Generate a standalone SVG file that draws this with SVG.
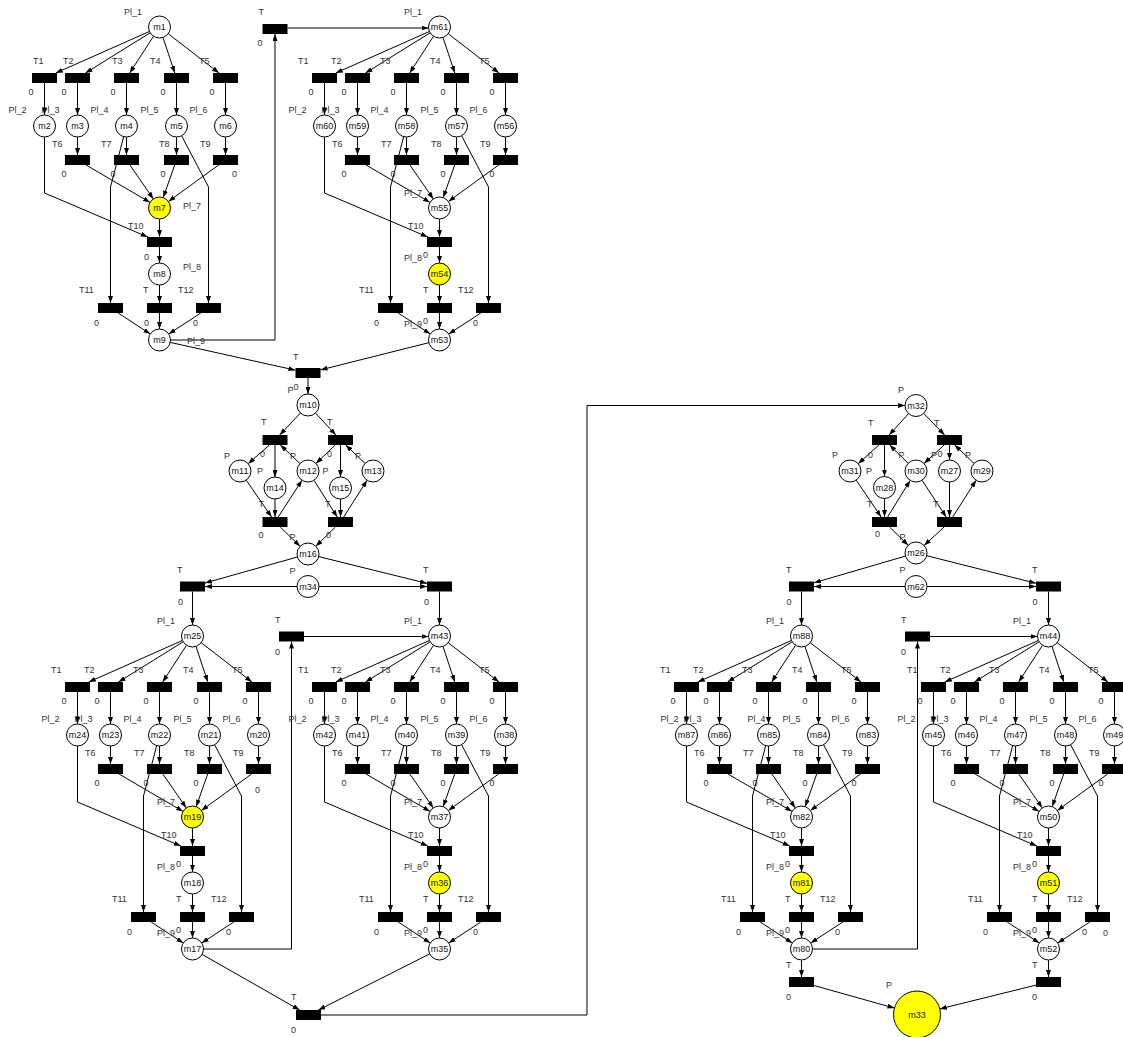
<svg xmlns="http://www.w3.org/2000/svg" width="1123" height="1037" viewBox="0 0 1123 1037">
<style>
.t{fill:#000}
.p{fill:#fff;stroke:#000;stroke-width:1}
.y{fill:#ffff00;stroke:#000;stroke-width:1}
text{font-family:"Liberation Sans",Arial,sans-serif;font-size:9px}
.l{fill:#333}
.n{fill:#111;text-anchor:middle}
.e{fill:none;stroke:#000;stroke-width:1;marker-end:url(#ah)}
</style>
<defs>
<marker id="ah" markerUnits="userSpaceOnUse" markerWidth="7" markerHeight="5" viewBox="0 0 7 5" refX="7" refY="2.5" orient="auto"><path d="M0,0L7,2.5L0,5z" fill="#000"/></marker>
</defs>
<rect width="1123" height="1037" fill="#fff"/>
<g id="connectors">
<g transform="translate(159.5,27)">
<path class="e" d="M-10.06,4.46L-103.7,46"/><path class="e" d="M-9.34,5.81L-74,46"/><path class="e" d="M-5.98,9.23L-29.8,46"/><path class="e" d="M3.48,10.44L15.3,46"/><path class="e" d="M8.7,6.73L59.5,46"/>
<path class="e" d="M-115,56V88"/><path class="e" d="M-82,56V88"/><path class="e" d="M-33,56V88"/><path class="e" d="M17,56V88"/><path class="e" d="M66,56V88"/>
<path class="e" d="M-82,110V128"/><path class="e" d="M-33,110V128"/><path class="e" d="M17,110V128"/><path class="e" d="M66,110V128"/>
<path class="e" d="M-115,110V166L-11.7,210"/><path class="e" d="M-35.8,109.6L-49,160V276"/><path class="e" d="M22.1,108.7L49,160V276"/>
<path class="e" d="M-73.5,138L-9.5,175.4"/><path class="e" d="M-29.6,138L-6.2,171.9"/><path class="e" d="M15.2,138L3.7,170.6"/><path class="e" d="M59.1,138L8.9,174.5"/>
<path class="e" d="M0,192V210"/><path class="e" d="M0,220V236"/><path class="e" d="M0,258V276"/><path class="e" d="M0,286V302"/><path class="e" d="M-41.3,286L-9.2,307"/><path class="e" d="M41.3,286L9.2,307"/>
</g>
<g transform="translate(439.5,27)">
<path class="e" d="M-10.06,4.46L-103.7,46"/><path class="e" d="M-9.34,5.81L-74,46"/><path class="e" d="M-5.98,9.23L-29.8,46"/><path class="e" d="M3.48,10.44L15.3,46"/><path class="e" d="M8.7,6.73L59.5,46"/>
<path class="e" d="M-115,56V88"/><path class="e" d="M-82,56V88"/><path class="e" d="M-33,56V88"/><path class="e" d="M17,56V88"/><path class="e" d="M66,56V88"/>
<path class="e" d="M-82,110V128"/><path class="e" d="M-33,110V128"/><path class="e" d="M17,110V128"/><path class="e" d="M66,110V128"/>
<path class="e" d="M-115,110V166L-11.7,210"/><path class="e" d="M-35.8,109.6L-49,160V276"/><path class="e" d="M22.1,108.7L49,160V276"/>
<path class="e" d="M-73.5,138L-9.5,175.4"/><path class="e" d="M-29.6,138L-6.2,171.9"/><path class="e" d="M15.2,138L3.7,170.6"/><path class="e" d="M59.1,138L8.9,174.5"/>
<path class="e" d="M0,192V210"/><path class="e" d="M0,220V236"/><path class="e" d="M0,258V276"/><path class="e" d="M0,286V302"/><path class="e" d="M-41.3,286L-9.2,307"/><path class="e" d="M41.3,286L9.2,307"/>
</g>
<g transform="translate(192.5,636)">
<path class="e" d="M-10.06,4.46L-103.7,46"/><path class="e" d="M-9.34,5.81L-74,46"/><path class="e" d="M-5.98,9.23L-29.8,46"/><path class="e" d="M3.48,10.44L15.3,46"/><path class="e" d="M8.7,6.73L59.5,46"/>
<path class="e" d="M-115,56V88"/><path class="e" d="M-82,56V88"/><path class="e" d="M-33,56V88"/><path class="e" d="M17,56V88"/><path class="e" d="M66,56V88"/>
<path class="e" d="M-82,110V128"/><path class="e" d="M-33,110V128"/><path class="e" d="M17,110V128"/><path class="e" d="M66,110V128"/>
<path class="e" d="M-115,110V166L-11.7,210"/><path class="e" d="M-35.8,109.6L-49,160V276"/><path class="e" d="M22.1,108.7L49,160V276"/>
<path class="e" d="M-73.5,138L-9.5,175.4"/><path class="e" d="M-29.6,138L-6.2,171.9"/><path class="e" d="M15.2,138L3.7,170.6"/><path class="e" d="M59.1,138L8.9,174.5"/>
<path class="e" d="M0,192V210"/><path class="e" d="M0,220V236"/><path class="e" d="M0,258V276"/><path class="e" d="M0,286V302"/><path class="e" d="M-41.3,286L-9.2,307"/><path class="e" d="M41.3,286L9.2,307"/>
</g>
<g transform="translate(439.5,636)">
<path class="e" d="M-10.06,4.46L-103.7,46"/><path class="e" d="M-9.34,5.81L-74,46"/><path class="e" d="M-5.98,9.23L-29.8,46"/><path class="e" d="M3.48,10.44L15.3,46"/><path class="e" d="M8.7,6.73L59.5,46"/>
<path class="e" d="M-115,56V88"/><path class="e" d="M-82,56V88"/><path class="e" d="M-33,56V88"/><path class="e" d="M17,56V88"/><path class="e" d="M66,56V88"/>
<path class="e" d="M-82,110V128"/><path class="e" d="M-33,110V128"/><path class="e" d="M17,110V128"/><path class="e" d="M66,110V128"/>
<path class="e" d="M-115,110V166L-11.7,210"/><path class="e" d="M-35.8,109.6L-49,160V276"/><path class="e" d="M22.1,108.7L49,160V276"/>
<path class="e" d="M-73.5,138L-9.5,175.4"/><path class="e" d="M-29.6,138L-6.2,171.9"/><path class="e" d="M15.2,138L3.7,170.6"/><path class="e" d="M59.1,138L8.9,174.5"/>
<path class="e" d="M0,192V210"/><path class="e" d="M0,220V236"/><path class="e" d="M0,258V276"/><path class="e" d="M0,286V302"/><path class="e" d="M-41.3,286L-9.2,307"/><path class="e" d="M41.3,286L9.2,307"/>
</g>
<g transform="translate(801.5,636)">
<path class="e" d="M-10.06,4.46L-103.7,46"/><path class="e" d="M-9.34,5.81L-74,46"/><path class="e" d="M-5.98,9.23L-29.8,46"/><path class="e" d="M3.48,10.44L15.3,46"/><path class="e" d="M8.7,6.73L59.5,46"/>
<path class="e" d="M-115,56V88"/><path class="e" d="M-82,56V88"/><path class="e" d="M-33,56V88"/><path class="e" d="M17,56V88"/><path class="e" d="M66,56V88"/>
<path class="e" d="M-82,110V128"/><path class="e" d="M-33,110V128"/><path class="e" d="M17,110V128"/><path class="e" d="M66,110V128"/>
<path class="e" d="M-115,110V166L-11.7,210"/><path class="e" d="M-35.8,109.6L-49,160V276"/><path class="e" d="M22.1,108.7L49,160V276"/>
<path class="e" d="M-73.5,138L-9.5,175.4"/><path class="e" d="M-29.6,138L-6.2,171.9"/><path class="e" d="M15.2,138L3.7,170.6"/><path class="e" d="M59.1,138L8.9,174.5"/>
<path class="e" d="M0,192V210"/><path class="e" d="M0,220V236"/><path class="e" d="M0,258V276"/><path class="e" d="M0,286V302"/><path class="e" d="M-41.3,286L-9.2,307"/><path class="e" d="M41.3,286L9.2,307"/>
</g>
<g transform="translate(1048.5,636)">
<path class="e" d="M-10.06,4.46L-103.7,46"/><path class="e" d="M-9.34,5.81L-74,46"/><path class="e" d="M-5.98,9.23L-29.8,46"/><path class="e" d="M3.48,10.44L15.3,46"/><path class="e" d="M8.7,6.73L59.5,46"/>
<path class="e" d="M-115,56V88"/><path class="e" d="M-82,56V88"/><path class="e" d="M-33,56V88"/><path class="e" d="M17,56V88"/><path class="e" d="M66,56V88"/>
<path class="e" d="M-82,110V128"/><path class="e" d="M-33,110V128"/><path class="e" d="M17,110V128"/><path class="e" d="M66,110V128"/>
<path class="e" d="M-115,110V166L-11.7,210"/><path class="e" d="M-35.8,109.6L-49,160V276"/><path class="e" d="M22.1,108.7L49,160V276"/>
<path class="e" d="M-73.5,138L-9.5,175.4"/><path class="e" d="M-29.6,138L-6.2,171.9"/><path class="e" d="M15.2,138L3.7,170.6"/><path class="e" d="M59.1,138L8.9,174.5"/>
<path class="e" d="M0,192V210"/><path class="e" d="M0,220V236"/><path class="e" d="M0,258V276"/><path class="e" d="M0,286V302"/><path class="e" d="M-41.3,286L-9.2,307"/><path class="e" d="M41.3,286L9.2,307"/>
</g>
<path class="e" d="M170.5,340H275V34"/>
<path class="e" d="M287.5,28H428.5"/>
<path class="e" d="M170.2,342.4L295.5,370.2"/>
<path class="e" d="M428.8,342.7L320.5,369.9"/>
<path class="e" d="M308,378V394"/>
<path class="e" d="M300.45,413L279.7,435"/>
<path class="e" d="M315.5,413.1L335.9,435"/>
<path class="e" d="M269.4,445L248.2,463.7"/>
<path class="e" d="M275,445V477"/>
<path class="e" d="M300,463.5L280.3,445"/>
<path class="e" d="M335.3,445L316,463.4"/>
<path class="e" d="M340.5,445V477"/>
<path class="e" d="M365,463.4L345.7,445"/>
<path class="e" d="M246.2,480.1L271.6,517"/>
<path class="e" d="M275,499V517"/>
<path class="e" d="M278.2,517L302,480.2"/>
<path class="e" d="M313.9,480.3L337.3,517"/>
<path class="e" d="M340.5,499V517"/>
<path class="e" d="M343.7,517L367.1,480.3"/>
<path class="e" d="M280.2,527L300.1,546.3"/>
<path class="e" d="M335.4,527L315.8,546.3"/>
<path class="e" d="M297.4,557L205,583"/>
<path class="e" d="M318.7,556.6L427,583.4"/>
<path class="e" d="M297,586.5H205"/>
<path class="e" d="M319,586.5H427"/>
<path class="e" d="M192.5,591.5V625"/>
<path class="e" d="M439.5,591.5V625"/>
<path class="e" d="M203.5,949H291.5V641.5"/>
<path class="e" d="M304,636.5H428.5"/>
<path class="e" d="M202.1,954.4L299.7,1010"/>
<path class="e" d="M429.7,953.9L318.4,1010"/>
<path class="e" d="M321,1015H587V405.5H905"/>
<path class="e" d="M908.6,413.6L889.1,435"/>
<path class="e" d="M923.7,413.4L944.6,435"/>
<path class="e" d="M878.9,445L858.2,463.7"/>
<path class="e" d="M884.5,445V476.5"/>
<path class="e" d="M908.2,463.3L889.6,445"/>
<path class="e" d="M944.1,445L924.1,463.5"/>
<path class="e" d="M949.5,445V460"/>
<path class="e" d="M974,463.4L954.7,445"/>
<path class="e" d="M856.2,480.1L881.1,517"/>
<path class="e" d="M884.5,498.5V517"/>
<path class="e" d="M887.6,517L910.2,480.4"/>
<path class="e" d="M922,480.2L946.2,517"/>
<path class="e" d="M949.5,482V517"/>
<path class="e" d="M952.7,517L976.1,480.3"/>
<path class="e" d="M889.6,527L908.2,545.3"/>
<path class="e" d="M944.1,527L924.1,545.5"/>
<path class="e" d="M905.4,556.1L814,582.8"/>
<path class="e" d="M926.7,555.7L1036,583.3"/>
<path class="e" d="M905,586.5H814"/>
<path class="e" d="M927,586.5H1036"/>
<path class="e" d="M801.5,591.5V625"/>
<path class="e" d="M1048.5,591.5V625"/>
<path class="e" d="M812.5,949H917.5V641.5"/>
<path class="e" d="M930,636.5H1037.5"/>
<path class="e" d="M801.5,960V977"/>
<path class="e" d="M1048.5,960V977"/>
<path class="e" d="M814,985.5L894.4,1008.1"/>
<path class="e" d="M1036,985.1L939.8,1008.9"/>
</g>
<g id="nodes">
<g id="block1" transform="translate(159.5,27)">
<g id="m1"><circle class="p" r="11"/><text class="n" y="3">m1</text><text class="l" x="-35.5" y="-12">Pl_1</text></g>
<g id="b1-T1"><rect class="t" x="-127.5" y="46" width="25" height="10"/><text class="l" x="-126.5" y="37">T1</text><text class="l" x="-131" y="67.5">0</text></g>
<g id="b1-T2"><rect class="t" x="-94.5" y="46" width="25" height="10"/><text class="l" x="-96.5" y="37">T2</text><text class="l" x="-98" y="67.5">0</text></g>
<g id="b1-T3"><rect class="t" x="-45.5" y="46" width="25" height="10"/><text class="l" x="-47.5" y="37">T3</text><text class="l" x="-49" y="67.5">0</text></g>
<g id="b1-T4"><rect class="t" x="4.5" y="46" width="25" height="10"/><text class="l" x="-9.5" y="37">T4</text><text class="l" x="1" y="67.5">0</text></g>
<g id="b1-T5"><rect class="t" x="53.5" y="46" width="25" height="10"/><text class="l" x="39.5" y="37">T5</text><text class="l" x="50" y="67.5">0</text></g>
<g id="m2"><circle class="p" cx="-115" cy="99" r="11"/><text class="n" x="-115" y="102">m2</text><text class="l" x="-151" y="86">Pl_2</text></g>
<g id="m3"><circle class="p" cx="-82" cy="99" r="11"/><text class="n" x="-82" y="102">m3</text><text class="l" x="-118" y="86">Pl_3</text></g>
<g id="m4"><circle class="p" cx="-33" cy="99" r="11"/><text class="n" x="-33" y="102">m4</text><text class="l" x="-69" y="86">Pl_4</text></g>
<g id="m5"><circle class="p" cx="17" cy="99" r="11"/><text class="n" x="17" y="102">m5</text><text class="l" x="-19" y="86">Pl_5</text></g>
<g id="m6"><circle class="p" cx="66" cy="99" r="11"/><text class="n" x="66" y="102">m6</text><text class="l" x="30" y="86">Pl_6</text></g>
<g id="b1-T6"><rect class="t" x="-94.5" y="128" width="25" height="10"/><text class="l" x="-107.5" y="120">T6</text><text class="l" x="-98" y="150">0</text></g>
<g id="b1-T7"><rect class="t" x="-45.5" y="128" width="25" height="10"/><text class="l" x="-58.5" y="120">T7</text><text class="l" x="-49" y="150">0</text></g>
<g id="b1-T8"><rect class="t" x="4.5" y="128" width="25" height="10"/><text class="l" x="-0.5" y="120">T8</text><text class="l" x="1" y="150">0</text></g>
<g id="b1-T9"><rect class="t" x="53.5" y="128" width="25" height="10"/><text class="l" x="40.5" y="120">T9</text><text class="l" x="72.5" y="150">0</text></g>
<g id="m7"><circle class="y" cy="181" r="11"/><text class="n" y="184">m7</text><text class="l" x="23.5" y="182">Pl_7</text></g>
<g id="b1-T10"><rect class="t" x="-12.5" y="210" width="25" height="10"/><text class="l" x="-31.5" y="201.5">T10</text><text class="l" x="-15.5" y="233">0</text></g>
<g id="m8"><circle class="p" cy="247" r="11"/><text class="n" y="250">m8</text><text class="l" x="23.5" y="243">Pl_8</text></g>
<g id="b1-T11"><rect class="t" x="-61.5" y="276" width="25" height="10"/><text class="l" x="-80.5" y="266">T11</text><text class="l" x="-65.5" y="299">0</text></g>
<g id="b1-T"><rect class="t" x="-12.5" y="276" width="25" height="10"/><text class="l" x="-16.5" y="266">T</text><text class="l" x="-15.5" y="299">0</text></g>
<g id="b1-T12"><rect class="t" x="36.5" y="276" width="25" height="10"/><text class="l" x="18.5" y="266">T12</text><text class="l" x="33.5" y="299">0</text></g>
<g id="m9"><circle class="p" cy="313" r="11"/><text class="n" y="316">m9</text><text class="l" x="27.5" y="316.5">Pl_9</text></g>
</g>
<g id="block2" transform="translate(439.5,27)">
<g id="m61"><circle class="p" r="11"/><text class="n" y="3">m61</text><text class="l" x="-35.5" y="-12">Pl_1</text></g>
<g id="b2-T1"><rect class="t" x="-127.5" y="46" width="25" height="10"/><text class="l" x="-141.5" y="37">T1</text><text class="l" x="-131" y="67.5">0</text></g>
<g id="b2-T2"><rect class="t" x="-94.5" y="46" width="25" height="10"/><text class="l" x="-108.5" y="37">T2</text><text class="l" x="-98" y="67.5">0</text></g>
<g id="b2-T3"><rect class="t" x="-45.5" y="46" width="25" height="10"/><text class="l" x="-59.5" y="37">T3</text><text class="l" x="-49" y="67.5">0</text></g>
<g id="b2-T4"><rect class="t" x="4.5" y="46" width="25" height="10"/><text class="l" x="-9.5" y="37">T4</text><text class="l" x="1" y="67.5">0</text></g>
<g id="b2-T5"><rect class="t" x="53.5" y="46" width="25" height="10"/><text class="l" x="39.5" y="37">T5</text><text class="l" x="50" y="67.5">0</text></g>
<g id="m60"><circle class="p" cx="-115" cy="99" r="11"/><text class="n" x="-115" y="102">m60</text><text class="l" x="-151" y="86">Pl_2</text></g>
<g id="m59"><circle class="p" cx="-82" cy="99" r="11"/><text class="n" x="-82" y="102">m59</text><text class="l" x="-118" y="86">Pl_3</text></g>
<g id="m58"><circle class="p" cx="-33" cy="99" r="11"/><text class="n" x="-33" y="102">m58</text><text class="l" x="-69" y="86">Pl_4</text></g>
<g id="m57"><circle class="p" cx="17" cy="99" r="11"/><text class="n" x="17" y="102">m57</text><text class="l" x="-19" y="86">Pl_5</text></g>
<g id="m56"><circle class="p" cx="66" cy="99" r="11"/><text class="n" x="66" y="102">m56</text><text class="l" x="30" y="86">Pl_6</text></g>
<g id="b2-T6"><rect class="t" x="-94.5" y="128" width="25" height="10"/><text class="l" x="-107.5" y="120">T6</text><text class="l" x="-98" y="150">0</text></g>
<g id="b2-T7"><rect class="t" x="-45.5" y="128" width="25" height="10"/><text class="l" x="-58.5" y="120">T7</text><text class="l" x="-49" y="150">0</text></g>
<g id="b2-T8"><rect class="t" x="4.5" y="128" width="25" height="10"/><text class="l" x="-8.5" y="120">T8</text><text class="l" x="1" y="150">0</text></g>
<g id="b2-T9"><rect class="t" x="53.5" y="128" width="25" height="10"/><text class="l" x="40.5" y="120">T9</text><text class="l" x="50" y="150">0</text></g>
<g id="m55"><circle class="p" cy="181" r="11"/><text class="n" y="184">m55</text><text class="l" x="-35.5" y="169">Pl_7</text></g>
<g id="b2-T10"><rect class="t" x="-12.5" y="210" width="25" height="10"/><text class="l" x="-31.5" y="201.5">T10</text><text class="l" x="-16.5" y="231">0</text></g>
<g id="m54"><circle class="y" cy="247" r="11"/><text class="n" y="250">m54</text><text class="l" x="-35.5" y="234">Pl_8</text></g>
<g id="b2-T11"><rect class="t" x="-61.5" y="276" width="25" height="10"/><text class="l" x="-80.5" y="266">T11</text><text class="l" x="-65.5" y="299">0</text></g>
<g id="b2-T"><rect class="t" x="-12.5" y="276" width="25" height="10"/><text class="l" x="-16.5" y="266">T</text><text class="l" x="-16.5" y="297">0</text></g>
<g id="b2-T12"><rect class="t" x="36.5" y="276" width="25" height="10"/><text class="l" x="18.5" y="266">T12</text><text class="l" x="33.5" y="299">0</text></g>
<g id="m53"><circle class="p" cy="313" r="11"/><text class="n" y="316">m53</text><text class="l" x="-35.5" y="300">Pl_9</text></g>
</g>
<g id="block3" transform="translate(192.5,636)">
<g id="m25"><circle class="p" r="11"/><text class="n" y="3">m25</text><text class="l" x="-35.5" y="-12">Pl_1</text></g>
<g id="b3-T1"><rect class="t" x="-127.5" y="46" width="25" height="10"/><text class="l" x="-141.5" y="37">T1</text><text class="l" x="-131" y="67.5">0</text></g>
<g id="b3-T2"><rect class="t" x="-94.5" y="46" width="25" height="10"/><text class="l" x="-108.5" y="37">T2</text><text class="l" x="-98" y="67.5">0</text></g>
<g id="b3-T3"><rect class="t" x="-45.5" y="46" width="25" height="10"/><text class="l" x="-59.5" y="37">T3</text><text class="l" x="-49" y="67.5">0</text></g>
<g id="b3-T4"><rect class="t" x="4.5" y="46" width="25" height="10"/><text class="l" x="-9.5" y="37">T4</text><text class="l" x="1" y="67.5">0</text></g>
<g id="b3-T5"><rect class="t" x="53.5" y="46" width="25" height="10"/><text class="l" x="39.5" y="37">T5</text><text class="l" x="50" y="67.5">0</text></g>
<g id="m24"><circle class="p" cx="-115" cy="99" r="11"/><text class="n" x="-115" y="102">m24</text><text class="l" x="-151" y="86">Pl_2</text></g>
<g id="m23"><circle class="p" cx="-82" cy="99" r="11"/><text class="n" x="-82" y="102">m23</text><text class="l" x="-118" y="86">Pl_3</text></g>
<g id="m22"><circle class="p" cx="-33" cy="99" r="11"/><text class="n" x="-33" y="102">m22</text><text class="l" x="-69" y="86">Pl_4</text></g>
<g id="m21"><circle class="p" cx="17" cy="99" r="11"/><text class="n" x="17" y="102">m21</text><text class="l" x="-19" y="86">Pl_5</text></g>
<g id="m20"><circle class="p" cx="66" cy="99" r="11"/><text class="n" x="66" y="102">m20</text><text class="l" x="30" y="86">Pl_6</text></g>
<g id="b3-T6"><rect class="t" x="-94.5" y="128" width="25" height="10"/><text class="l" x="-107.5" y="120">T6</text><text class="l" x="-98" y="150">0</text></g>
<g id="b3-T7"><rect class="t" x="-45.5" y="128" width="25" height="10"/><text class="l" x="-58.5" y="120">T7</text><text class="l" x="-49" y="150">0</text></g>
<g id="b3-T8"><rect class="t" x="4.5" y="128" width="25" height="10"/><text class="l" x="-8.5" y="120">T8</text><text class="l" x="1" y="150">0</text></g>
<g id="b3-T9"><rect class="t" x="53.5" y="128" width="25" height="10"/><text class="l" x="40.5" y="120">T9</text><text class="l" x="62.5" y="157">0</text></g>
<g id="m19"><circle class="y" cy="181" r="11"/><text class="n" y="184">m19</text><text class="l" x="-35.5" y="169">Pl_7</text></g>
<g id="b3-T10"><rect class="t" x="-12.5" y="210" width="25" height="10"/><text class="l" x="-31.5" y="201.5">T10</text><text class="l" x="-16.5" y="231">0</text></g>
<g id="m18"><circle class="p" cy="247" r="11"/><text class="n" y="250">m18</text><text class="l" x="-35.5" y="234">Pl_8</text></g>
<g id="b3-T11"><rect class="t" x="-61.5" y="276" width="25" height="10"/><text class="l" x="-80.5" y="266">T11</text><text class="l" x="-65.5" y="299">0</text></g>
<g id="b3-T"><rect class="t" x="-12.5" y="276" width="25" height="10"/><text class="l" x="-16.5" y="266">T</text><text class="l" x="-16.5" y="297">0</text></g>
<g id="b3-T12"><rect class="t" x="36.5" y="276" width="25" height="10"/><text class="l" x="18.5" y="266">T12</text><text class="l" x="33.5" y="299">0</text></g>
<g id="m17"><circle class="p" cy="313" r="11"/><text class="n" y="316">m17</text><text class="l" x="-35.5" y="300">Pl_9</text></g>
</g>
<g id="block4" transform="translate(439.5,636)">
<g id="m43"><circle class="p" r="11"/><text class="n" y="3">m43</text><text class="l" x="-35.5" y="-12">Pl_1</text></g>
<g id="b4-T1"><rect class="t" x="-127.5" y="46" width="25" height="10"/><text class="l" x="-141.5" y="37">T1</text><text class="l" x="-131" y="67.5">0</text></g>
<g id="b4-T2"><rect class="t" x="-94.5" y="46" width="25" height="10"/><text class="l" x="-108.5" y="37">T2</text><text class="l" x="-98" y="67.5">0</text></g>
<g id="b4-T3"><rect class="t" x="-45.5" y="46" width="25" height="10"/><text class="l" x="-59.5" y="37">T3</text><text class="l" x="-49" y="67.5">0</text></g>
<g id="b4-T4"><rect class="t" x="4.5" y="46" width="25" height="10"/><text class="l" x="-9.5" y="37">T4</text><text class="l" x="1" y="67.5">0</text></g>
<g id="b4-T5"><rect class="t" x="53.5" y="46" width="25" height="10"/><text class="l" x="39.5" y="37">T5</text><text class="l" x="50" y="67.5">0</text></g>
<g id="m42"><circle class="p" cx="-115" cy="99" r="11"/><text class="n" x="-115" y="102">m42</text><text class="l" x="-151" y="86">Pl_2</text></g>
<g id="m41"><circle class="p" cx="-82" cy="99" r="11"/><text class="n" x="-82" y="102">m41</text><text class="l" x="-118" y="86">Pl_3</text></g>
<g id="m40"><circle class="p" cx="-33" cy="99" r="11"/><text class="n" x="-33" y="102">m40</text><text class="l" x="-69" y="86">Pl_4</text></g>
<g id="m39"><circle class="p" cx="17" cy="99" r="11"/><text class="n" x="17" y="102">m39</text><text class="l" x="-19" y="86">Pl_5</text></g>
<g id="m38"><circle class="p" cx="66" cy="99" r="11"/><text class="n" x="66" y="102">m38</text><text class="l" x="30" y="86">Pl_6</text></g>
<g id="b4-T6"><rect class="t" x="-94.5" y="128" width="25" height="10"/><text class="l" x="-107.5" y="120">T6</text><text class="l" x="-98" y="150">0</text></g>
<g id="b4-T7"><rect class="t" x="-45.5" y="128" width="25" height="10"/><text class="l" x="-58.5" y="120">T7</text><text class="l" x="-49" y="150">0</text></g>
<g id="b4-T8"><rect class="t" x="4.5" y="128" width="25" height="10"/><text class="l" x="-8.5" y="120">T8</text><text class="l" x="1" y="150">0</text></g>
<g id="b4-T9"><rect class="t" x="53.5" y="128" width="25" height="10"/><text class="l" x="40.5" y="120">T9</text><text class="l" x="50" y="150">0</text></g>
<g id="m37"><circle class="p" cy="181" r="11"/><text class="n" y="184">m37</text><text class="l" x="-35.5" y="169">Pl_7</text></g>
<g id="b4-T10"><rect class="t" x="-12.5" y="210" width="25" height="10"/><text class="l" x="-31.5" y="201.5">T10</text><text class="l" x="-16.5" y="231">0</text></g>
<g id="m36"><circle class="y" cy="247" r="11"/><text class="n" y="250">m36</text><text class="l" x="-35.5" y="234">Pl_8</text></g>
<g id="b4-T11"><rect class="t" x="-61.5" y="276" width="25" height="10"/><text class="l" x="-80.5" y="266">T11</text><text class="l" x="-65.5" y="299">0</text></g>
<g id="b4-T"><rect class="t" x="-12.5" y="276" width="25" height="10"/><text class="l" x="-16.5" y="266">T</text><text class="l" x="-16.5" y="297">0</text></g>
<g id="b4-T12"><rect class="t" x="36.5" y="276" width="25" height="10"/><text class="l" x="18.5" y="266">T12</text><text class="l" x="33.5" y="299">0</text></g>
<g id="m35"><circle class="p" cy="313" r="11"/><text class="n" y="316">m35</text><text class="l" x="-35.5" y="300">Pl_9</text></g>
</g>
<g id="block5" transform="translate(801.5,636)">
<g id="m88"><circle class="p" r="11"/><text class="n" y="3">m88</text><text class="l" x="-35.5" y="-12">Pl_1</text></g>
<g id="b5-T1"><rect class="t" x="-127.5" y="46" width="25" height="10"/><text class="l" x="-141.5" y="37">T1</text><text class="l" x="-131" y="67.5">0</text></g>
<g id="b5-T2"><rect class="t" x="-94.5" y="46" width="25" height="10"/><text class="l" x="-108.5" y="37">T2</text><text class="l" x="-98" y="67.5">0</text></g>
<g id="b5-T3"><rect class="t" x="-45.5" y="46" width="25" height="10"/><text class="l" x="-59.5" y="37">T3</text><text class="l" x="-49" y="67.5">0</text></g>
<g id="b5-T4"><rect class="t" x="4.5" y="46" width="25" height="10"/><text class="l" x="-9.5" y="37">T4</text><text class="l" x="1" y="67.5">0</text></g>
<g id="b5-T5"><rect class="t" x="53.5" y="46" width="25" height="10"/><text class="l" x="39.5" y="37">T5</text><text class="l" x="50" y="67.5">0</text></g>
<g id="m87"><circle class="p" cx="-115" cy="99" r="11"/><text class="n" x="-115" y="102">m87</text><text class="l" x="-141" y="86">Pl_2</text></g>
<g id="m86"><circle class="p" cx="-82" cy="99" r="11"/><text class="n" x="-82" y="102">m86</text><text class="l" x="-118" y="86">Pl_3</text></g>
<g id="m85"><circle class="p" cx="-33" cy="99" r="11"/><text class="n" x="-33" y="102">m85</text><text class="l" x="-54" y="86">Pl_4</text></g>
<g id="m84"><circle class="p" cx="17" cy="99" r="11"/><text class="n" x="17" y="102">m84</text><text class="l" x="-19" y="86">Pl_5</text></g>
<g id="m83"><circle class="p" cx="66" cy="99" r="11"/><text class="n" x="66" y="102">m83</text><text class="l" x="30" y="86">Pl_6</text></g>
<g id="b5-T6"><rect class="t" x="-94.5" y="128" width="25" height="10"/><text class="l" x="-107.5" y="120">T6</text><text class="l" x="-98" y="150">0</text></g>
<g id="b5-T7"><rect class="t" x="-45.5" y="128" width="25" height="10"/><text class="l" x="-58.5" y="120">T7</text><text class="l" x="-49" y="150">0</text></g>
<g id="b5-T8"><rect class="t" x="4.5" y="128" width="25" height="10"/><text class="l" x="-8.5" y="120">T8</text><text class="l" x="1" y="150">0</text></g>
<g id="b5-T9"><rect class="t" x="53.5" y="128" width="25" height="10"/><text class="l" x="40.5" y="120">T9</text><text class="l" x="50" y="150">0</text></g>
<g id="m82"><circle class="p" cy="181" r="11"/><text class="n" y="184">m82</text><text class="l" x="-35.5" y="169">Pl_7</text></g>
<g id="b5-T10"><rect class="t" x="-12.5" y="210" width="25" height="10"/><text class="l" x="-31.5" y="201.5">T10</text><text class="l" x="-16.5" y="231">0</text></g>
<g id="m81"><circle class="y" cy="247" r="11"/><text class="n" y="250">m81</text><text class="l" x="-35.5" y="234">Pl_8</text></g>
<g id="b5-T11"><rect class="t" x="-61.5" y="276" width="25" height="10"/><text class="l" x="-80.5" y="266">T11</text><text class="l" x="-65.5" y="299">0</text></g>
<g id="b5-T"><rect class="t" x="-12.5" y="276" width="25" height="10"/><text class="l" x="-16.5" y="266">T</text><text class="l" x="-16.5" y="297">0</text></g>
<g id="b5-T12"><rect class="t" x="36.5" y="276" width="25" height="10"/><text class="l" x="18.5" y="266">T12</text><text class="l" x="33.5" y="299">0</text></g>
<g id="m80"><circle class="p" cy="313" r="11"/><text class="n" y="316">m80</text><text class="l" x="-35.5" y="300">Pl_9</text></g>
</g>
<g id="block6" transform="translate(1048.5,636)">
<g id="m44"><circle class="p" r="11"/><text class="n" y="3">m44</text><text class="l" x="-35.5" y="-12">Pl_1</text></g>
<g id="b6-T1"><rect class="t" x="-127.5" y="46" width="25" height="10"/><text class="l" x="-141.5" y="37">T1</text><text class="l" x="-131" y="67.5">0</text></g>
<g id="b6-T2"><rect class="t" x="-94.5" y="46" width="25" height="10"/><text class="l" x="-108.5" y="37">T2</text><text class="l" x="-98" y="67.5">0</text></g>
<g id="b6-T3"><rect class="t" x="-45.5" y="46" width="25" height="10"/><text class="l" x="-59.5" y="37">T3</text><text class="l" x="-49" y="67.5">0</text></g>
<g id="b6-T4"><rect class="t" x="4.5" y="46" width="25" height="10"/><text class="l" x="-9.5" y="37">T4</text><text class="l" x="1" y="67.5">0</text></g>
<g id="b6-T5"><rect class="t" x="53.5" y="46" width="25" height="10"/><text class="l" x="39.5" y="37">T5</text><text class="l" x="50" y="67.5">0</text></g>
<g id="m45"><circle class="p" cx="-115" cy="99" r="11"/><text class="n" x="-115" y="102">m45</text><text class="l" x="-151" y="86">Pl_2</text></g>
<g id="m46"><circle class="p" cx="-82" cy="99" r="11"/><text class="n" x="-82" y="102">m46</text><text class="l" x="-118" y="86">Pl_3</text></g>
<g id="m47"><circle class="p" cx="-33" cy="99" r="11"/><text class="n" x="-33" y="102">m47</text><text class="l" x="-69" y="86">Pl_4</text></g>
<g id="m48"><circle class="p" cx="17" cy="99" r="11"/><text class="n" x="17" y="102">m48</text><text class="l" x="-19" y="86">Pl_5</text></g>
<g id="m49"><circle class="p" cx="66" cy="99" r="11"/><text class="n" x="66" y="102">m49</text><text class="l" x="30" y="86">Pl_6</text></g>
<g id="b6-T6"><rect class="t" x="-94.5" y="128" width="25" height="10"/><text class="l" x="-107.5" y="120">T6</text><text class="l" x="-98" y="150">0</text></g>
<g id="b6-T7"><rect class="t" x="-45.5" y="128" width="25" height="10"/><text class="l" x="-58.5" y="120">T7</text><text class="l" x="-49" y="150">0</text></g>
<g id="b6-T8"><rect class="t" x="4.5" y="128" width="25" height="10"/><text class="l" x="-8.5" y="120">T8</text><text class="l" x="1" y="150">0</text></g>
<g id="b6-T9"><rect class="t" x="53.5" y="128" width="25" height="10"/><text class="l" x="40.5" y="120">T9</text><text class="l" x="50" y="150">0</text></g>
<g id="m50"><circle class="p" cy="181" r="11"/><text class="n" y="184">m50</text><text class="l" x="-35.5" y="169">Pl_7</text></g>
<g id="b6-T10"><rect class="t" x="-12.5" y="210" width="25" height="10"/><text class="l" x="-31.5" y="201.5">T10</text><text class="l" x="-16.5" y="231">0</text></g>
<g id="m51"><circle class="y" cy="247" r="11"/><text class="n" y="250">m51</text><text class="l" x="-35.5" y="234">Pl_8</text></g>
<g id="b6-T11"><rect class="t" x="-61.5" y="276" width="25" height="10"/><text class="l" x="-80.5" y="266">T11</text><text class="l" x="-65.5" y="299">0</text></g>
<g id="b6-T"><rect class="t" x="-12.5" y="276" width="25" height="10"/><text class="l" x="-16.5" y="266">T</text><text class="l" x="-16.5" y="297">0</text></g>
<g id="b6-T12"><rect class="t" x="36.5" y="276" width="25" height="10"/><text class="l" x="18.5" y="266">T12</text><text class="l" x="33.5" y="299">0</text><text class="l" x="54.5" y="300">0</text></g>
<g id="m52"><circle class="p" cy="313" r="11"/><text class="n" y="316">m52</text><text class="l" x="-35.5" y="300">Pl_9</text></g>
</g>
<g id="T-top"><rect class="t" x="262.5" y="24" width="25" height="10"/><text class="l" x="258.5" y="15">T</text><text class="l" x="257.5" y="46">0</text></g>
<g id="T-merge"><rect class="t" x="295.5" y="368" width="25" height="10"/><text class="l" x="293" y="359.5">T</text><text class="l" x="293.5" y="390">0</text></g>
<g id="m10"><circle class="p" cx="308" cy="405" r="11"/><text class="n" x="308" y="408">m10</text><text class="l" x="287.5" y="393">P</text></g>
<g id="T-ul"><rect class="t" x="262.5" y="435" width="25" height="10"/><text class="l" x="261" y="425">T</text><text class="l" x="260" y="457">0</text></g>
<g id="T-ur"><rect class="t" x="328" y="435" width="25" height="10"/><text class="l" x="327" y="425">T</text><text class="l" x="327" y="457">0</text></g>
<g id="m11"><circle class="p" cx="240" cy="471" r="11"/><text class="n" x="240" y="474">m11</text><text class="l" x="224" y="459">P</text></g>
<g id="m14"><circle class="p" cx="275" cy="488" r="11"/><text class="n" x="275" y="491">m14</text><text class="l" x="257" y="474">P</text></g>
<g id="m12"><circle class="p" cx="308" cy="471" r="11"/><text class="n" x="308" y="474">m12</text><text class="l" x="290" y="459">P</text></g>
<g id="m15"><circle class="p" cx="340.5" cy="488" r="11"/><text class="n" x="340.5" y="491">m15</text><text class="l" x="322.5" y="474">P</text></g>
<g id="m13"><circle class="p" cx="373" cy="471" r="11"/><text class="n" x="373" y="474">m13</text><text class="l" x="355" y="459">P</text></g>
<g id="T-ll"><rect class="t" x="262.5" y="517" width="25" height="10"/><text class="l" x="258.5" y="507">T</text><text class="l" x="258.5" y="538">0</text></g>
<g id="T-lr"><rect class="t" x="328" y="517" width="25" height="10"/><text class="l" x="325" y="507">T</text><text class="l" x="326" y="538">0</text></g>
<g id="m16"><circle class="p" cx="308" cy="554" r="11"/><text class="n" x="308" y="557">m16</text><text class="l" x="289.5" y="540">P</text></g>
<g id="m34"><circle class="p" cx="308" cy="586.5" r="11"/><text class="n" x="308" y="589.5">m34</text><text class="l" x="289.5" y="574">P</text></g>
<g id="T-l"><rect class="t" x="180" y="581.5" width="25" height="10"/><text class="l" x="177" y="573">T</text><text class="l" x="178" y="605">0</text></g>
<g id="T-r"><rect class="t" x="427" y="581.5" width="25" height="10"/><text class="l" x="423" y="573">T</text><text class="l" x="424" y="605">0</text></g>
<g id="T-b3"><rect class="t" x="279" y="631.5" width="25" height="10"/><text class="l" x="275" y="623">T</text><text class="l" x="275" y="654.5">0</text></g>
<g id="T-bot"><rect class="t" x="296" y="1010" width="25" height="10"/><text class="l" x="291" y="1000">T</text><text class="l" x="291" y="1033">0</text></g>
<g id="m32"><circle class="p" cx="916" cy="405.5" r="11"/><text class="n" x="916" y="408.5">m32</text><text class="l" x="898" y="393">P</text></g>
<g id="T-ul2"><rect class="t" x="872" y="435" width="25" height="10"/><text class="l" x="868" y="425.5">T</text><text class="l" x="868" y="458">0</text></g>
<g id="T-ur2"><rect class="t" x="937" y="435" width="25" height="10"/><text class="l" x="934" y="425.5">T</text><text class="l" x="937.5" y="457">0</text></g>
<g id="m31"><circle class="p" cx="850" cy="471" r="11"/><text class="n" x="850" y="474">m31</text><text class="l" x="832" y="458">P</text></g>
<g id="m28"><circle class="p" cx="884.5" cy="487.5" r="11"/><text class="n" x="884.5" y="490.5">m28</text><text class="l" x="866" y="474">P</text></g>
<g id="m30"><circle class="p" cx="916" cy="471" r="11"/><text class="n" x="916" y="474">m30</text><text class="l" x="898.5" y="458">P</text></g>
<g id="m27"><circle class="p" cx="949.5" cy="471" r="11"/><text class="n" x="949.5" y="474">m27</text><text class="l" x="931" y="458">P</text></g>
<g id="m29"><circle class="p" cx="982" cy="471" r="11"/><text class="n" x="982" y="474">m29</text><text class="l" x="965" y="458">P</text></g>
<g id="T-ll2"><rect class="t" x="872" y="517" width="25" height="10"/><text class="l" x="867" y="507">T</text><text class="l" x="875" y="537">0</text></g>
<g id="T-lr2"><rect class="t" x="937" y="517" width="25" height="10"/><text class="l" x="933" y="507">T</text></g>
<g id="m26"><circle class="p" cx="916" cy="553" r="11"/><text class="n" x="916" y="556">m26</text><text class="l" x="899.5" y="540">P</text></g>
<g id="m62"><circle class="p" cx="916" cy="586.5" r="11"/><text class="n" x="916" y="589.5">m62</text><text class="l" x="899.5" y="573">P</text></g>
<g id="T-l2"><rect class="t" x="789" y="581.5" width="25" height="10"/><text class="l" x="786" y="573">T</text><text class="l" x="786.5" y="605">0</text></g>
<g id="T-r2"><rect class="t" x="1036" y="581.5" width="25" height="10"/><text class="l" x="1032" y="573">T</text><text class="l" x="1032.5" y="605">0</text></g>
<g id="T-b5"><rect class="t" x="905" y="631.5" width="25" height="10"/><text class="l" x="901" y="623">T</text><text class="l" x="901" y="654.5">0</text></g>
<g id="T-out5"><rect class="t" x="789" y="977" width="25" height="10"/><text class="l" x="786" y="968">T</text><text class="l" x="786" y="1000">0</text></g>
<g id="T-out6"><rect class="t" x="1036" y="977" width="25" height="10"/><text class="l" x="1032" y="968">T</text><text class="l" x="1032" y="1000">0</text></g>
<g id="m33"><circle class="y" cx="917" cy="1014.5" r="23.5"/><text class="n" x="917" y="1017.5">m33</text><text class="l" x="886" y="988">P</text></g>
</g>
</svg>
